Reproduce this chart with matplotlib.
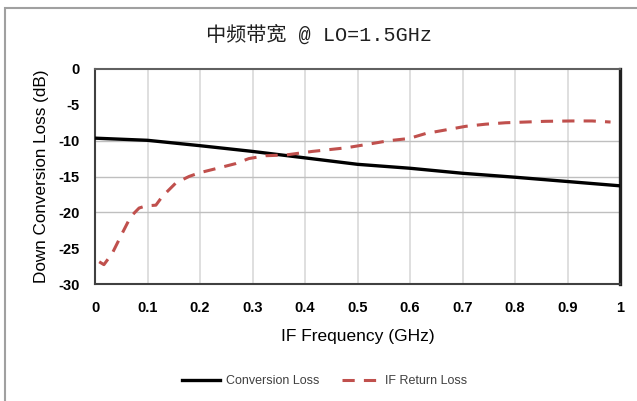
import matplotlib
matplotlib.use("Agg")
import matplotlib.pyplot as plt
from matplotlib.patches import Rectangle

title = "中频带宽 @ LO=1.5GHz"
xlabel = "IF Frequency (GHz)"
ylabel = "Down Conversion Loss (dB)"
series_names = ["Conversion Loss", "IF Return Loss"]

conv_x = [0.0, 0.1, 0.2, 0.3, 0.4, 0.5, 0.6, 0.7, 0.8, 0.9, 1.0]
conv_y = [-9.65, -9.95, -10.7, -11.5, -12.4, -13.3, -13.85, -14.55, -15.1, -15.7, -16.3]

ret_x = [0.008, 0.017, 0.033, 0.052, 0.068, 0.084, 0.097, 0.116, 0.128, 0.154, 0.179,
         0.198, 0.236, 0.268, 0.293, 0.325, 0.363, 0.414, 0.478, 0.528, 0.56, 0.598,
         0.63, 0.668, 0.706, 0.744, 0.782, 0.82, 0.858, 0.909, 0.947, 0.982]
ret_y = [-26.9, -27.3, -25.7, -22.9, -20.6, -19.4, -19.1, -19.0, -17.8, -15.9, -15.0,
         -14.5, -13.8, -13.2, -12.5, -12.1, -12.0, -11.5, -11.0, -10.4, -10.0, -9.7,
         -9.0, -8.5, -8.0, -7.7, -7.5, -7.4, -7.3, -7.25, -7.25, -7.4]

xticks = [0, 0.1, 0.2, 0.3, 0.4, 0.5, 0.6, 0.7, 0.8, 0.9, 1]
xticklabels = ["0", "0.1", "0.2", "0.3", "0.4", "0.5", "0.6", "0.7", "0.8", "0.9", "1"]
yticks = [0, -5, -10, -15, -20, -25, -30]
yticklabels = ["0", "-5", "-10", "-15", "-20", "-25", "-30"]
ygrid = [-10, -15, -20]

tickfont = "Liberation Sans"

fig = plt.figure(figsize=(6.37, 4.01), dpi=100)
fig.patch.set_facecolor("white")
fig.patches.append(Rectangle((5/637, -0.05), 1.1, 1 - 8/401 + 0.05, transform=fig.transFigure,
                             fill=False, edgecolor="#a0a0a0", linewidth=1.5))

ax = fig.add_axes([95/637, 1 - 284/401, 525/637, 215/401])
ax.set_xlim(0, 1)
ax.set_ylim(-30, 0)

for xv in xticks[1:-1]:
    ax.axvline(xv, color="#d9d9d9", linewidth=1.2, zorder=0)
for yv in ygrid:
    ax.axhline(yv, color="#bfbfbf", linewidth=1.0, zorder=0)

ax.plot(conv_x, conv_y, color="black", linewidth=2.4, label=series_names[0], zorder=3)
ax.plot(ret_x, ret_y, color="#c0504d", linewidth=2.2, linestyle=(0, (4, 3)),
        label=series_names[1], zorder=3)

ax.set_xticks(xticks)
ax.set_xticklabels(xticklabels, fontsize=10.5, fontweight="bold", family=tickfont)
ax.set_yticks(yticks)
ax.set_yticklabels(yticklabels, fontsize=10.5, fontweight="bold", family=tickfont)
ax.tick_params(length=0)
ax.tick_params(axis="y", pad=11)
ax.tick_params(axis="x", pad=12)

for side in ["left", "bottom"]:
    ax.spines[side].set_color("#404040")
    ax.spines[side].set_linewidth(1.5)
ax.spines["top"].set_color("#606060")
ax.spines["top"].set_linewidth(1.5)
ax.spines["right"].set_color("#202020")
ax.spines["right"].set_linewidth(2.4)

ax.set_xlabel(xlabel, fontsize=12.5, family="Liberation Sans", labelpad=10)
ax.set_ylabel(ylabel, fontsize=12.3, family="Liberation Sans", labelpad=7)

fig.text(0.5, 1 - 35/401, title, ha="center", va="center", fontsize=14.5,
         family=["Liberation Mono", "Noto Sans CJK SC"], color="#202020")

leg = fig.legend(loc="center", bbox_to_anchor=(0.51, 1 - 381/401), ncol=2, frameon=False,
                 handlelength=3.0, handletextpad=0.5, columnspacing=1.8,
                 prop={"family": "Liberation Sans", "size": 9})
for t in leg.get_texts():
    t.set_color("#404040")

fig.savefig("out.png", dpi=100)
